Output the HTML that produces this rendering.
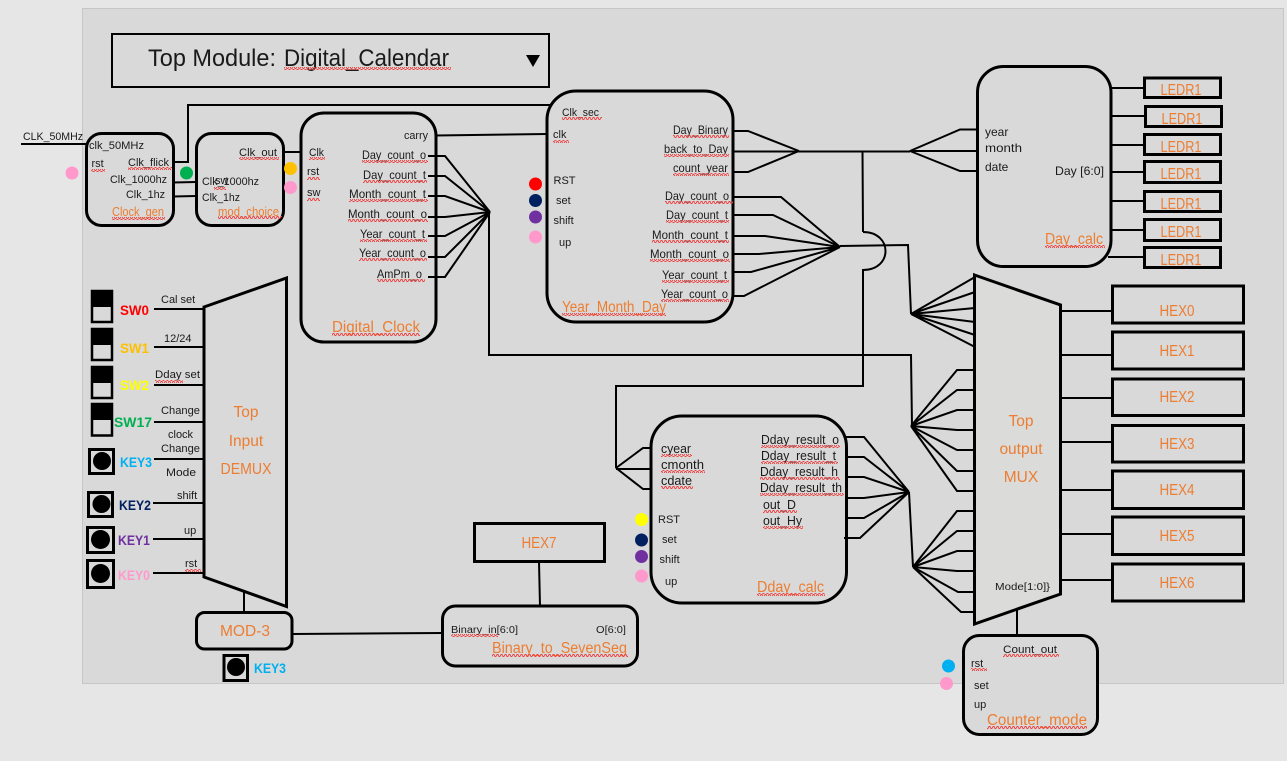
<!DOCTYPE html>
<html><head><meta charset="utf-8">
<style>
html,body{margin:0;padding:0;background:#e6e6e6;width:1287px;height:761px;overflow:hidden}
svg{display:block}
text{font-family:"Liberation Sans",sans-serif;font-size:12px;fill:#1a1a1a}
.s{font-size:11px}
.o{font-size:15.5px;fill:#ed7d31}
.c{text-anchor:middle}
.b{font-weight:bold;font-size:14px}
.box{fill:#d9d9d9;stroke:#000;stroke-width:3}
.l{fill:none;stroke:#000;stroke-width:2}
.k{fill:#d9d9d9;stroke:#000;stroke-width:3}
</style></head><body>
<svg width="1287" height="761" viewBox="0 0 1287 761" xmlns="http://www.w3.org/2000/svg">
<defs><pattern id="q" width="4" height="3" patternUnits="userSpaceOnUse"><path d="M0 2.5 L1 .5 L2 .5 L3 2.5 L4 2.5" fill="none" stroke="#f04040" stroke-width=".9"/></pattern></defs>
<rect width="1287" height="761" fill="#e6e6e6"/>
<rect x="82.5" y="8.5" width="1201" height="675" fill="#d9d9d9" stroke="#c6c6c6"/>

<!-- title -->
<rect x="112" y="34" width="437" height="53" fill="none" stroke="#000" stroke-width="2"/>
<text x="148" y="66" style="font-size:24px" textLength="128" lengthAdjust="spacingAndGlyphs">Top Module:</text>
<text x="284" y="66" style="font-size:24px" textLength="165" lengthAdjust="spacingAndGlyphs">Digital_Calendar</text>
<rect x="284" y="67" width="167" height="3" fill="url(#q)"/>
<path d="M526 55H540L533 67Z" fill="#000"/>

<!-- connectors -->
<g class="l">
<path d="M21 144H86"/>
<path d="M173 162H188V105H552"/>
<path d="M173 182.5L196 182M173 196.5L196 196"/>
<path d="M283 152H302"/>
<path d="M436 135.5L547 134"/>
<path d="M428 156H445L490 212M428 176H445L490 212M428 196H445L490 212M428 217H445L490 212M428 236H445L490 212M428 257H445L490 212M428 277H445L490 212"/>
<path d="M489 212V355H911L912 426"/>
<path d="M733 131H748L799 151M733 172H748L799 151M733 151.500H910"/>
<path d="M910 151L960 129.500H977M910 151H977M910 151L960 171H977"/>
<path d="M862.500 151L863 232"/>
<path d="M863 232C893 232 893 270 863 270"/>
<path d="M863 269V386H616V468"/>
<path d="M616 468L643 448H652M616 469H652M616 468L643 489H652"/>
<path d="M733 197H781L840 247M733 215H773L840 247M733 236H765L840 247M733 254H759L840 247M733 272H751L840 247M733 296H744L840 247"/>
<path d="M840 246L908 245L911 314"/>
<path d="M911 314L975 277M911 314L975 292M911 314L975 308M911 314L975 322M911 314L975 335M911 314L975 347"/>
<path d="M911 426L957 370H975M911 426L957 390H975M911 426L957 410H975M911 426L957 430H975M911 426L957 450H975M911 426L957 471H975M911 426L957 491H975"/>
<path d="M846 437H864L909 492M846 457H864L909 492M846 477H864L909 492M846 498H864L909 492M846 518H864L909 492M844 538H860L909 492"/>
<path d="M909 492L913 567"/>
<path d="M913 567L957 511H975M913 567L957 531H975M913 567L957 551H975M913 567L957 571H975M913 567L958 592H975M913 567L961 612H975"/>
<path d="M1061 311H1112M1061 355H1112M1061 398H1112M1061 442H1112M1061 490H1112M1061 534H1112M1061 580H1112"/>
<path d="M1111 88H1144M1111 116H1145M1111 145H1144M1111 172H1144M1111 201H1144M1111 230H1144M1108 257H1144"/>
<path d="M154 309H204M154 347H204M154 385H204M154 422H204M154 459H204M153 503H204M153 539H204M153 573H204"/>
<path d="M244 590V612M292 634L442 633M539 562L540 606M1017 610V635"/>
</g>

<!-- modules -->
<rect class="box" x="86.500" y="133.500" width="87" height="92" rx="15" style="fill:none"/>
<rect class="box" x="196.500" y="133.500" width="87" height="92" rx="15" style="fill:none"/>
<rect class="box" x="301" y="113" width="135" height="229" rx="23" style="fill:none"/>
<rect class="box" x="547" y="91" width="186" height="231" rx="29" style="fill:none"/>
<rect class="box" x="977.500" y="66.500" width="133.500" height="200" rx="26" style="fill:none"/>
<rect class="box" x="651" y="416" width="195.500" height="187" rx="31" style="fill:none"/>
<rect class="box" x="442.500" y="606" width="195" height="60" rx="13" style="fill:none"/>
<rect class="box" x="196.500" y="612.500" width="95.500" height="36.500" rx="8" style="fill:none"/>
<rect class="box" x="963.500" y="635.500" width="134" height="99" rx="16"/>
<path class="box" d="M204 307L286.500 278V606.500L204 577Z"/>
<path class="box" d="M974.500 275L1060.500 305V594L974.500 624Z" style="fill:#dbdbd9"/>

<!-- HEX / LEDR -->
<g fill="none" stroke="#000" stroke-width="3">
<rect x="1112.500" y="286" width="131" height="37"/>
<rect x="1112.500" y="332" width="131" height="37"/>
<rect x="1112.500" y="379" width="131" height="36.500"/>
<rect x="1112.500" y="425.500" width="131" height="36.500"/>
<rect x="1112.500" y="471" width="131" height="37.500"/>
<rect x="1112.500" y="517" width="131" height="37.500"/>
<rect x="1112.500" y="564" width="131" height="37"/>
<rect x="474.500" y="523.500" width="130" height="38"/>
<rect x="1144.500" y="78" width="76" height="19.500"/>
<rect x="1145.500" y="106.500" width="76" height="20"/>
<rect x="1144.500" y="134.500" width="76" height="20"/>
<rect x="1144.500" y="161.500" width="76" height="21"/>
<rect x="1144.500" y="191.500" width="76" height="20"/>
<rect x="1144.500" y="219.500" width="76" height="21"/>
<rect x="1144.500" y="247.500" width="76" height="20"/>
</g>
<g class="o">
<text class="o c" x="1177" y="316" textLength="35" lengthAdjust="spacingAndGlyphs">HEX0</text>
<text class="o c" x="1177" y="356" textLength="35" lengthAdjust="spacingAndGlyphs">HEX1</text>
<text class="o c" x="1177" y="402" textLength="35" lengthAdjust="spacingAndGlyphs">HEX2</text>
<text class="o c" x="1177" y="449" textLength="35" lengthAdjust="spacingAndGlyphs">HEX3</text>
<text class="o c" x="1177" y="495" textLength="35" lengthAdjust="spacingAndGlyphs">HEX4</text>
<text class="o c" x="1177" y="541" textLength="35" lengthAdjust="spacingAndGlyphs">HEX5</text>
<text class="o c" x="1177" y="588" textLength="35" lengthAdjust="spacingAndGlyphs">HEX6</text>
<text class="o c" x="539" y="548" textLength="35" lengthAdjust="spacingAndGlyphs">HEX7</text>
<text class="o c" x="1181" y="95" textLength="41" lengthAdjust="spacingAndGlyphs">LEDR1</text>
<text class="o c" x="1182" y="124" textLength="41" lengthAdjust="spacingAndGlyphs">LEDR1</text>
<text class="o c" x="1181" y="152" textLength="41" lengthAdjust="spacingAndGlyphs">LEDR1</text>
<text class="o c" x="1181" y="179" textLength="41" lengthAdjust="spacingAndGlyphs">LEDR1</text>
<text class="o c" x="1181" y="209" textLength="41" lengthAdjust="spacingAndGlyphs">LEDR1</text>
<text class="o c" x="1181" y="237" textLength="41" lengthAdjust="spacingAndGlyphs">LEDR1</text>
<text class="o c" x="1181" y="265" textLength="41" lengthAdjust="spacingAndGlyphs">LEDR1</text>
<text class="o c" x="246" y="417">Top</text>
<text class="o c" x="246" y="446">Input</text>
<text class="o c" x="246" y="474" textLength="51" lengthAdjust="spacingAndGlyphs">DEMUX</text>
<text class="o c" x="1021" y="426">Top</text>
<text class="o c" x="1021" y="454">output</text>
<text class="o c" x="1021" y="482">MUX</text>
<text class="o c" x="245" y="636" textLength="50" lengthAdjust="spacingAndGlyphs">MOD-3</text>
</g>

<!-- dots -->
<circle cx="72" cy="173" r="6.500" fill="#ff99cc"/>
<circle cx="186.500" cy="173" r="6.500" fill="#00b050"/>
<circle cx="290.500" cy="168.500" r="6.500" fill="#ffc000"/>
<circle cx="290.500" cy="187.500" r="6.500" fill="#ff99cc"/>
<circle cx="535.500" cy="184" r="6.500" fill="#ff0000"/>
<circle cx="535.500" cy="200.500" r="6.500" fill="#002060"/>
<circle cx="535.500" cy="217" r="6.500" fill="#7030a0"/>
<circle cx="535.500" cy="237" r="6.500" fill="#ff99cc"/>
<circle cx="641.500" cy="519.500" r="6.500" fill="#ffff00"/>
<circle cx="641.500" cy="540" r="6.500" fill="#002060"/>
<circle cx="641.500" cy="556.500" r="6.500" fill="#7030a0"/>
<circle cx="641.500" cy="576" r="6.500" fill="#ff99cc"/>
<circle cx="948.500" cy="666" r="6.500" fill="#00b0f0"/>
<circle cx="946.500" cy="683.500" r="6.500" fill="#ff99cc"/>

<!-- switches -->
<g>
<rect x="92" y="291" width="20" height="31" fill="#d9d9d9" stroke="#000" stroke-width="2.500"/><rect x="92" y="291" width="20" height="16" fill="#000"/>
<rect x="92" y="329" width="20" height="31" fill="#d9d9d9" stroke="#000" stroke-width="2.500"/><rect x="92" y="329" width="20" height="16" fill="#000"/>
<rect x="92" y="367" width="20" height="31" fill="#d9d9d9" stroke="#000" stroke-width="2.500"/><rect x="92" y="367" width="20" height="16" fill="#000"/>
<rect x="92" y="404" width="20" height="31.500" fill="#d9d9d9" stroke="#000" stroke-width="2.500"/><rect x="92" y="404" width="20" height="16" fill="#000"/>
</g>
<!-- keys -->
<rect class="k" x="89.500" y="449.500" width="24" height="24"/><circle cx="102" cy="461" r="9"/>
<rect class="k" x="88.500" y="492.500" width="24" height="24"/><circle cx="101.500" cy="504" r="9"/>
<rect class="k" x="87.500" y="527.500" width="26" height="25"/><circle cx="100.500" cy="539.500" r="9.500"/>
<rect class="k" x="87.500" y="560.500" width="26" height="27"/><circle cx="100.500" cy="573.500" r="9.500"/>
<rect class="k" x="224" y="655.500" width="23.500" height="25"/><circle cx="236" cy="667" r="9"/>

<text class="b" x="120" y="315" style="fill:#ff0000" textLength="29" lengthAdjust="spacingAndGlyphs">SW0</text>
<text class="b" x="120" y="353" style="fill:#ffc000" textLength="29" lengthAdjust="spacingAndGlyphs">SW1</text>
<text class="b" x="120" y="390" style="fill:#ffff00" textLength="29" lengthAdjust="spacingAndGlyphs">SW2</text>
<text class="b" x="114" y="427" style="fill:#00b050" textLength="38" lengthAdjust="spacingAndGlyphs">SW17</text>
<text class="b" x="120" y="467" style="fill:#00b0f0" textLength="32" lengthAdjust="spacingAndGlyphs">KEY3</text>
<text class="b" x="119" y="510" style="fill:#002060" textLength="32" lengthAdjust="spacingAndGlyphs">KEY2</text>
<text class="b" x="118" y="545" style="fill:#7030a0" textLength="32" lengthAdjust="spacingAndGlyphs">KEY1</text>
<text class="b" x="118" y="580" style="fill:#ff99cc" textLength="32" lengthAdjust="spacingAndGlyphs">KEY0</text>
<text class="b" x="254" y="673" style="fill:#00b0f0" textLength="32" lengthAdjust="spacingAndGlyphs">KEY3</text>

<!-- demux labels -->
<text class="s" x="161" y="303">Cal set</text>
<text class="s" x="164" y="342">12/24</text>
<text class="s" x="155" y="378" textLength="45" lengthAdjust="spacingAndGlyphs">Dday set</text><rect x="155" y="380" width="28" height="3" fill="url(#q)"/>
<text class="s" x="161" y="414" textLength="39" lengthAdjust="spacingAndGlyphs">Change</text>
<text class="s" x="168" y="438">clock</text>
<text class="s" x="161" y="452" textLength="39" lengthAdjust="spacingAndGlyphs">Change</text>
<text class="s" x="166" y="476" textLength="30" lengthAdjust="spacingAndGlyphs">Mode</text>
<text class="s" x="177" y="499">shift</text>
<text class="s" x="184" y="534">up</text>
<text class="s" x="185" y="567">rst</text><rect x="185" y="569" width="16" height="3" fill="url(#q)"/>

<!-- clock gen -->
<text class="s" x="23" y="140" textLength="60" lengthAdjust="spacingAndGlyphs">CLK_50MHz</text>
<text class="s" x="89" y="149" textLength="55" lengthAdjust="spacingAndGlyphs">clk_50MHz</text>
<text class="s" x="91.500" y="167">rst</text><rect x="91" y="169" width="14" height="3" fill="url(#q)"/>
<text class="s" x="128" y="166" textLength="41" lengthAdjust="spacingAndGlyphs">Clk_flick</text><rect x="128" y="167" width="44" height="3" fill="url(#q)"/>
<text class="s" x="110" y="183" textLength="57" lengthAdjust="spacingAndGlyphs">Clk_1000hz</text>
<text class="s" x="126" y="198" textLength="39" lengthAdjust="spacingAndGlyphs">Clk_1hz</text>
<text x="112" y="216" style="font-size:12.500px;fill:#ed7d31" textLength="52" lengthAdjust="spacingAndGlyphs">Clock_gen</text><rect x="112" y="217" width="53" height="3" fill="url(#q)"/>
<text class="s" x="239" y="156" textLength="38" lengthAdjust="spacingAndGlyphs">Clk_out</text><rect x="239" y="157" width="40" height="3" fill="url(#q)"/>
<text class="s" x="202" y="185" textLength="57" lengthAdjust="spacingAndGlyphs">Clk_1000hz</text>
<text class="s" x="215" y="184">sw</text><rect x="214" y="187" width="12" height="3" fill="url(#q)"/>
<text class="s" x="202" y="201" textLength="38" lengthAdjust="spacingAndGlyphs">Clk_1hz</text>
<text x="218" y="216" style="font-size:12.500px;fill:#ed7d31" textLength="61" lengthAdjust="spacingAndGlyphs">mod_choice</text><rect x="218" y="216" width="64" height="3" fill="url(#q)"/>

<!-- digital clock -->
<text class="s" x="309" y="156" textLength="15" lengthAdjust="spacingAndGlyphs">Clk</text><rect x="309" y="157" width="16" height="3" fill="url(#q)"/>
<text class="s" x="307" y="175">rst</text><rect x="307" y="177" width="13" height="3" fill="url(#q)"/>
<text class="s" x="307" y="196">sw</text><rect x="307" y="198" width="13" height="3" fill="url(#q)"/>
<text class="s" x="404" y="139" textLength="24" lengthAdjust="spacingAndGlyphs">carry</text>
<text x="362" y="159" textLength="64" lengthAdjust="spacingAndGlyphs">Day_count_o</text><rect x="362" y="160" width="66" height="3" fill="url(#q)"/>
<text x="363" y="179" textLength="63" lengthAdjust="spacingAndGlyphs">Day_count_t</text><rect x="363" y="180" width="64" height="3" fill="url(#q)"/>
<text x="349" y="198" textLength="77" lengthAdjust="spacingAndGlyphs">Month_count_t</text><rect x="349" y="199" width="79" height="3" fill="url(#q)"/>
<text x="348" y="218" textLength="79" lengthAdjust="spacingAndGlyphs">Month_count_o</text><rect x="348" y="219" width="80" height="3" fill="url(#q)"/>
<text x="360" y="238" textLength="65" lengthAdjust="spacingAndGlyphs">Year_count_t</text><rect x="360" y="239" width="67" height="3" fill="url(#q)"/>
<text x="359" y="257" textLength="67" lengthAdjust="spacingAndGlyphs">Year_count_o</text><rect x="359" y="258" width="68" height="3" fill="url(#q)"/>
<text x="377" y="278" textLength="45" lengthAdjust="spacingAndGlyphs">AmPm_o</text><rect x="377" y="279" width="48" height="3" fill="url(#q)"/>
<text class="o" x="332" y="332" textLength="88" lengthAdjust="spacingAndGlyphs">Digital_Clock</text><rect x="332" y="333" width="88" height="3" fill="url(#q)"/>

<!-- YMD -->
<text class="s" x="562" y="116" textLength="37" lengthAdjust="spacingAndGlyphs">Clk_sec</text><rect x="562" y="117" width="40" height="3" fill="url(#q)"/>
<text class="s" x="553" y="138">clk</text><rect x="553" y="140" width="16" height="3" fill="url(#q)"/>
<text class="s" x="553.500" y="184">RST</text>
<text class="s" x="556" y="204">set</text>
<text class="s" x="553.500" y="224">shift</text>
<text class="s" x="559" y="246">up</text>
<text x="673" y="134" textLength="55" lengthAdjust="spacingAndGlyphs">Day_Binary</text><rect x="673" y="135" width="56" height="3" fill="url(#q)"/>
<text x="664" y="153" textLength="64" lengthAdjust="spacingAndGlyphs">back_to_Day</text><rect x="664" y="154" width="65" height="3" fill="url(#q)"/>
<text x="673" y="172" textLength="55" lengthAdjust="spacingAndGlyphs">count_year</text><rect x="673" y="173" width="56" height="3" fill="url(#q)"/>
<text x="665" y="200" textLength="64" lengthAdjust="spacingAndGlyphs">Day_count_o</text><rect x="665" y="201" width="68" height="3" fill="url(#q)"/>
<text x="666" y="219" textLength="62" lengthAdjust="spacingAndGlyphs">Day_count_t</text><rect x="666" y="220" width="63" height="3" fill="url(#q)"/>
<text x="652" y="239" textLength="76" lengthAdjust="spacingAndGlyphs">Month_count_t</text><rect x="652" y="240" width="77" height="3" fill="url(#q)"/>
<text x="650" y="258" textLength="79" lengthAdjust="spacingAndGlyphs">Month_count_o</text><rect x="650" y="259" width="80" height="3" fill="url(#q)"/>
<text x="662" y="279" textLength="65" lengthAdjust="spacingAndGlyphs">Year_count_t</text><rect x="662" y="280" width="67" height="3" fill="url(#q)"/>
<text x="661" y="298" textLength="67" lengthAdjust="spacingAndGlyphs">Year_count_o</text><rect x="661" y="299" width="68" height="3" fill="url(#q)"/>
<text class="o" x="562" y="312" textLength="104" lengthAdjust="spacingAndGlyphs">Year_Month_Day</text><rect x="562" y="313" width="104" height="3" fill="url(#q)"/>

<!-- Day calc -->
<text x="985" y="136">year</text>
<text x="985" y="152" textLength="37" lengthAdjust="spacingAndGlyphs">month</text>
<text x="985" y="171">date</text>
<text x="1055" y="175" textLength="49" lengthAdjust="spacingAndGlyphs">Day [6:0]</text>
<text class="o" x="1045" y="244" textLength="58" lengthAdjust="spacingAndGlyphs">Day_calc</text><rect x="1045" y="245" width="60" height="3" fill="url(#q)"/>

<!-- Dday -->
<text x="661" y="453" style="font-size:13px" textLength="30" lengthAdjust="spacingAndGlyphs">cyear</text><rect x="661" y="454" width="31" height="3" fill="url(#q)"/>
<text x="661" y="469" style="font-size:13px" textLength="43" lengthAdjust="spacingAndGlyphs">cmonth</text><rect x="661" y="470" width="44" height="3" fill="url(#q)"/>
<text x="661" y="485" style="font-size:13px" textLength="31" lengthAdjust="spacingAndGlyphs">cdate</text><rect x="661" y="486" width="32" height="3" fill="url(#q)"/>
<text class="s" x="658" y="523">RST</text>
<text class="s" x="662" y="543">set</text>
<text class="s" x="659.500" y="563">shift</text>
<text class="s" x="665" y="585">up</text>
<text x="761" y="444" style="font-size:13px" textLength="78" lengthAdjust="spacingAndGlyphs">Dday_result_o</text><rect x="761" y="445" width="79" height="3" fill="url(#q)"/>
<text x="761" y="460" style="font-size:13px" textLength="75" lengthAdjust="spacingAndGlyphs">Dday_result_t</text><rect x="761" y="461" width="77" height="3" fill="url(#q)"/>
<text x="760" y="476" style="font-size:13px" textLength="78" lengthAdjust="spacingAndGlyphs">Dday_result_h</text><rect x="760" y="477" width="80" height="3" fill="url(#q)"/>
<text x="760" y="492" style="font-size:13px" textLength="82" lengthAdjust="spacingAndGlyphs">Dday_result_th</text><rect x="760" y="493" width="84" height="3" fill="url(#q)"/>
<text x="763" y="509" style="font-size:13px" textLength="33" lengthAdjust="spacingAndGlyphs">out_D</text><rect x="763" y="510" width="34" height="3" fill="url(#q)"/>
<text x="763" y="525" style="font-size:13px" textLength="39" lengthAdjust="spacingAndGlyphs">out_Hy</text><rect x="763" y="526" width="40" height="3" fill="url(#q)"/>
<text class="o" x="757" y="592" textLength="67" lengthAdjust="spacingAndGlyphs">Dday_calc</text><rect x="757" y="593" width="68" height="3" fill="url(#q)"/>

<!-- Binary -->
<text x="451" y="633" style="font-size:10px" textLength="67" lengthAdjust="spacingAndGlyphs">Binary_in[6:0]</text><rect x="451" y="634" width="47" height="3" fill="url(#q)"/>
<text x="596" y="633" style="font-size:10px" textLength="30" lengthAdjust="spacingAndGlyphs">O[6:0]</text>
<text class="o" x="492" y="653" textLength="135" lengthAdjust="spacingAndGlyphs">Binary_to_SevenSeg</text><rect x="492" y="654" width="136" height="3" fill="url(#q)"/>

<!-- Mux / counter -->
<text x="995" y="590" style="font-size:10.500px" textLength="55" lengthAdjust="spacingAndGlyphs">Mode[1:0]}</text>
<text class="s" x="1003" y="653" textLength="54" lengthAdjust="spacingAndGlyphs">Count_out</text><rect x="1003" y="654" width="56" height="3" fill="url(#q)"/>
<text class="s" x="971" y="667">rst</text><rect x="971" y="668" width="16" height="3" fill="url(#q)"/>
<text class="s" x="974" y="689">set</text>
<text class="s" x="974" y="708">up</text>
<text class="o" x="987" y="725" textLength="100" lengthAdjust="spacingAndGlyphs">Counter_mode</text><rect x="987" y="726" width="100" height="3" fill="url(#q)"/>
</svg>
</body></html>
